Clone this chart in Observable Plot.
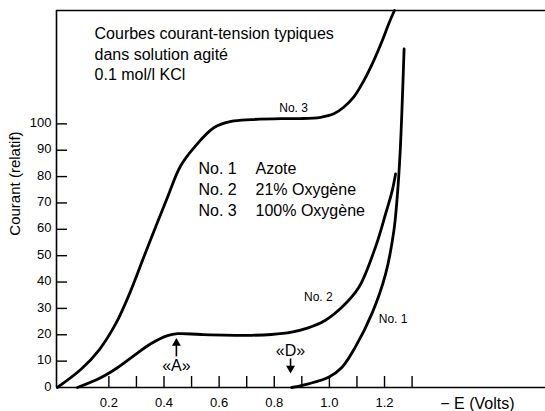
<!DOCTYPE html>
<html>
<head>
<meta charset="utf-8">
<script src="https://cdn.jsdelivr.net/npm/d3@7"></script>
<script src="https://cdn.jsdelivr.net/npm/@observablehq/plot@0.6"></script>
<style>
  html, body { margin: 0; padding: 0; background: #fff; }
  #chart svg { display: block; }
</style>
</head>
<body>
<div id="chart"></div>
<script>
// ---- Data ----
const curve1E = [0.863, 0.924, 0.997, 1.046, 1.094, 1.155, 1.204, 1.234, 1.246, 1.257, 1.271];
const curve1I = [0, 1.4, 3.9, 7.7, 15.3, 28.2, 43.1, 59.5, 72.2, 89.9, 128.4];

const curve2E = [0.086, 0.170, 0.231, 0.291, 0.352, 0.413, 0.450, 0.535, 0.717, 0.790, 0.863, 0.920, 0.984, 1.046, 1.107, 1.167, 1.204, 1.228, 1.240];
const curve2I = [0, 3.7, 7.5, 12.1, 16.6, 19.7, 20.4, 20.1, 19.8, 20.1, 21.0, 22.5, 25.4, 30.5, 38.0, 53.2, 65.9, 74.7, 81.0];

const curve3E = [0.013, 0.100, 0.165, 0.225, 0.275, 0.336, 0.408, 0.460, 0.509, 0.582, 0.644, 0.716, 0.827, 0.895, 0.968, 1.016, 1.052, 1.088, 1.125, 1.161, 1.192, 1.215, 1.236];
const curve3I = [0, 7.0, 14.3, 24.2, 35.6, 52.0, 70.9, 84.0, 91.0, 98.6, 100.9, 101.6, 102.0, 102.0, 102.5, 103.8, 106.3, 110.1, 116.4, 124.0, 131.6, 137.9, 143.0];

const yTicks = [0, 10, 20, 30, 40, 50, 60, 70, 80, 90, 100];
const xTicks = [0.2, 0.3, 0.4, 0.5, 0.6, 0.7, 0.8, 0.9, 1.0, 1.1, 1.2, 1.3];
const xTickLabels = [0.2, 0.4, 0.6, 0.8, 1.0, 1.2];

const curveNames = ["No. 1", "No. 2", "No. 3"];
const curveLabelE = [1.231, 0.960, 0.870];
const curveLabelI = [26.0, 34.2, 105.8];

const legendKeys = ["No. 1", "No. 2", "No. 3"];
const legendNames = ["Azote", "21% Oxygène", "100% Oxygène"];
const legendE = [0.525, 0.732];
const legendI = [83, 75, 67];

const titleLines = ["Courbes courant-tension typiques", "dans solution agité", "0.1 mol/l KCl"];
const titleE = 0.148;
const titleI = [134.2, 126.3, 118.7];

const xLabel = "− E (Volts)";
const xLabelE = 1.537;
const yLabel = "Courant (relatif)";
const yLabelI = 57.6;

const markerNames = ["«A»", "«D»"];
const markerE = [0.445, 0.859];
const markerTextI = [8.3, 14.0];
const markerStemFrom = [11.8, 11.0];
const markerStemTo = [16.5, 7.2];
const markerHeadI = [16.8, 7.3];
const markerHeadRotate = [0, 180];

const xDomain = [0.01, 1.784];
const yDomain = [0, 143];

// ---- Build tables ----
const lines = [
  ...curve1E.map((e, i) => ({series: "No. 1", E: e, I: curve1I[i]})),
  ...curve2E.map((e, i) => ({series: "No. 2", E: e, I: curve2I[i]})),
  ...curve3E.map((e, i) => ({series: "No. 3", E: e, I: curve3I[i]}))
];
const curveLabels = curveNames.map((n, i) => ({n, E: curveLabelE[i], I: curveLabelI[i]}));
const legendRows = legendKeys.map((k, i) => ({k, name: legendNames[i], I: legendI[i]}));
const titleRows = titleLines.map((t, i) => ({t, I: titleI[i]}));
const markers = markerNames.map((m, i) => ({
  m, E: markerE[i], tI: markerTextI[i], s1: markerStemFrom[i], s2: markerStemTo[i], h: markerHeadI[i], r: markerHeadRotate[i]
}));

const font = "'Liberation Sans', Arial, sans-serif";
const W = 545, H = 411, mL = 56, mR = 0, mT = 10, mB = 24;

const chart = Plot.plot({
  width: W,
  height: H,
  marginLeft: mL,
  marginRight: mR,
  marginTop: mT,
  marginBottom: mB,
  style: {fontFamily: font, background: "#fff", color: "#000"},
  x: {domain: xDomain, label: null},
  y: {domain: yDomain, label: null},
  marks: [
    // frame lines (left, top, bottom)
    Plot.ruleX([xDomain[0]], {stroke: "#000", strokeWidth: 1.6}),
    Plot.ruleY([yDomain[0]], {stroke: "#000", strokeWidth: 1.6}),
    Plot.ruleY([yDomain[1]], {stroke: "#000", strokeWidth: 1.6}),
    // inward ticks
    Plot.tickY(yTicks.slice(1), {y: d => d, stroke: "#000", strokeWidth: 1.4, insetRight: W - mL - mR - 11}),
    Plot.tickX(xTicks, {x: d => d, stroke: "#000", strokeWidth: 1.4, insetTop: H - mT - mB - 11}),
    // tick labels
    Plot.axisY({ticks: yTicks, tickSize: 0, tickPadding: 5, fontSize: 13, dy: -1, label: null}),
    Plot.axisX({ticks: xTickLabels, tickSize: 0, tickPadding: 10, fontSize: 13, tickFormat: d3.format(".1f"), label: null}),
    // axis titles
    Plot.text([xLabel], {x: () => xLabelE, y: () => 0, text: d => d, dy: 16, fontSize: 16, lineAnchor: "middle"}),
    Plot.text([yLabel], {frameAnchor: "left", y: () => yLabelI, text: d => d, dx: -41, rotate: -90, fontSize: 15, lineAnchor: "middle"}),
    // curves
    Plot.line(lines, {x: "E", y: "I", z: "series", stroke: "#000", strokeWidth: 2.8, curve: "catmull-rom"}),
    // curve labels
    Plot.text(curveLabels, {x: "E", y: "I", text: "n", fontSize: 12, lineAnchor: "middle"}),
    // title block
    Plot.text(titleRows, {x: () => titleE, y: "I", text: "t", textAnchor: "start", fontSize: 16, lineAnchor: "middle"}),
    // legend
    Plot.text(legendRows, {x: () => legendE[0], y: "I", text: "k", textAnchor: "start", fontSize: 16, lineAnchor: "middle"}),
    Plot.text(legendRows, {x: () => legendE[1], y: "I", text: "name", textAnchor: "start", fontSize: 16, lineAnchor: "middle"}),
    // markers A and D
    Plot.text(markers, {x: "E", y: "tI", text: "m", fontSize: 16, lineAnchor: "middle"}),
    Plot.link(markers, {x1: "E", x2: "E", y1: "s1", y2: "s2", stroke: "#000", strokeWidth: 1.6}),
    Plot.dot(markers, {x: "E", y: "h", symbol: "triangle", r: 3.3, fill: "#000", stroke: "none", rotate: "r"})
  ]
});

document.getElementById("chart").appendChild(chart);
</script>
</body>
</html>
